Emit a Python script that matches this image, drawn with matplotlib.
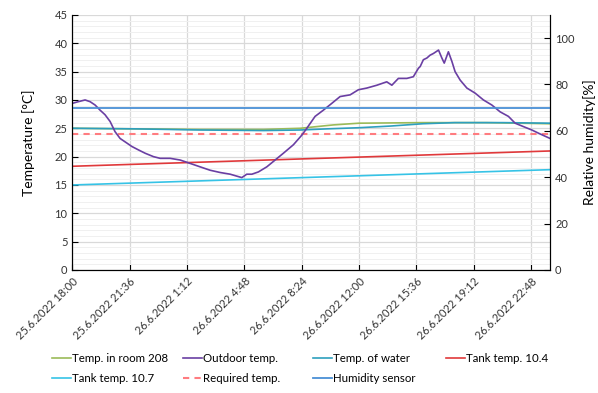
import datetime as dt
import matplotlib
matplotlib.use('Agg')
import matplotlib.pyplot as plt
import matplotlib.dates as mdates
from matplotlib.ticker import MultipleLocator, FuncFormatter

plt.rcParams['font.family'] = ['Lato', 'DejaVu Sans']

start = dt.datetime(2022, 6, 25, 18, 0)
end = dt.datetime(2022, 6, 27, 0, 0)

# hours since start / outdoor temperature
outdoor_h = [0, 0.38, 0.8, 1.11, 1.43, 1.74, 2.05, 2.37, 2.68, 3.0, 3.42, 3.73, 4.14,
             4.57, 5.09, 5.51, 6.14, 6.77, 7.4, 8.02, 8.65, 9.28, 9.91, 10.64, 10.95,
             11.27, 11.68, 12.21, 12.73, 13.25, 13.88, 14.41, 14.72, 15.24, 15.76,
             16.29, 16.81, 17.44, 17.96, 18.49, 19.12, 19.74, 20.06, 20.47, 21.0,
             21.41, 21.73, 21.84, 22.04, 22.26, 22.46, 22.67, 22.99, 23.2, 23.35,
             23.61, 23.83, 24.03, 24.35, 24.77, 25.29, 25.81, 26.34, 26.86, 27.38,
             27.8, 28.32, 28.85, 29.37, 30.0]
outdoor_t = [29.4, 29.7, 30.0, 29.7, 29.1, 28.2, 27.4, 26.2, 24.4, 23.2, 22.4, 21.8, 21.2,
             20.6, 20.0, 19.7, 19.7, 19.4, 18.8, 18.2, 17.6, 17.2, 16.9, 16.3, 16.9,
             16.9, 17.3, 18.2, 19.4, 20.6, 22.1, 23.8, 25.0, 27.1, 28.2,
             29.4, 30.6, 30.9, 31.8, 32.1, 32.6, 33.2, 32.6, 33.8, 33.8,
             34.1, 35.6, 35.9, 37.1, 37.4, 37.9, 38.2, 38.8, 37.4, 36.5,
             38.5, 36.8, 35.0, 33.5, 32.1, 31.2, 30.0, 29.1, 27.9, 27.1,
             25.9, 25.3, 24.7, 24.0, 23.2]

room_h = [0, 4, 8, 12, 14.3, 16.4, 18, 22, 26, 30]
room_t = [25.0, 24.9, 24.8, 24.8, 25.0, 25.6, 25.9, 26.0, 26.0, 25.8]

water_h = [0, 4, 8, 12, 14.3, 16, 18, 20, 22, 24, 27, 30]
water_t = [25.0, 24.9, 24.7, 24.6, 24.7, 24.9, 25.1, 25.4, 25.8, 26.0, 26.0, 25.9]

tank4_h = [0, 30]
tank4_t = [18.3, 21.0]
tank7_h = [0, 30]
tank7_t = [15.0, 17.7]
required_h = [0, 30]
required_t = [24.0, 24.0]
humidity_h = [0, 30]
humidity_pct = [70.0, 70.0]


def to_dates(hours):
    return [mdates.date2num(start + dt.timedelta(hours=h)) for h in hours]


def fmt_date(x, pos=None):
    d = mdates.num2date(x)
    return f"{d.day}.{d.month}.{d.year} {d.hour}:{d.minute:02d}"


fig = plt.figure(figsize=(5.98, 3.93), dpi=100)
ax = fig.add_axes([0.121, 0.313, 0.799, 0.649])
ax2 = ax.twinx()

l_room, = ax.plot(to_dates(room_h), room_t, color='#9BBB59', lw=1.2)
l_water, = ax.plot(to_dates(water_h), water_t, color='#2E9FBE', lw=1.2)
l_t4, = ax.plot(to_dates(tank4_h), tank4_t, color='#E0393B', lw=1.2)
l_t7, = ax.plot(to_dates(tank7_h), tank7_t, color='#36C3E6', lw=1.2)
l_req, = ax.plot(to_dates(required_h), required_t, color='#FF7C80', lw=1.5,
                 ls=(0, (3, 2.5)))
l_out, = ax.plot(to_dates(outdoor_h), outdoor_t, color='#6A3FA3', lw=1.2)
l_hum, = ax2.plot(to_dates(humidity_h), humidity_pct, color='#4A90D6', lw=1.3)

ax.set_xlim(mdates.date2num(start), mdates.date2num(end))
ax.set_ylim(0, 45)
ax2.set_ylim(0, 110)

ticks = [mdates.date2num(start + dt.timedelta(minutes=216 * i)) for i in range(9)]
ax.set_xticks(ticks)
ax.xaxis.set_major_formatter(FuncFormatter(fmt_date))
plt.setp(ax.get_xticklabels(), rotation=45, ha='right', rotation_mode='anchor')

ax.yaxis.set_major_locator(MultipleLocator(5))
ax.yaxis.set_minor_locator(MultipleLocator(1))
ax2.set_yticks([0, 20, 40, 60, 80, 100])

ax.grid(True, which='major', color='#D9D9D9', lw=0.9)
ax.grid(True, which='minor', axis='y', color='#F0F0F0', lw=0.7)
ax.set_axisbelow(True)

for a in (ax, ax2):
    a.spines['top'].set_visible(False)
    a.tick_params(direction='in', length=4, width=0.8, labelsize=8, colors='black')
    a.tick_params(which='minor', length=0)
ax.tick_params(axis='y', labelcolor='#333333')
ax2.tick_params(axis='y', labelcolor='#333333')
ax.tick_params(axis='x', pad=4, labelcolor='#333333')

ax.set_ylabel('Temperature [°C]', fontsize=10, labelpad=14)
ax2.set_ylabel('Relative humidity[%]', fontsize=10, labelpad=6)

# legend: one small legend per column, Excel-like placement
columns = [
    ([l_room, l_t7], ['Temp. in room 208', 'Tank temp. 10.7'], 52),
    ([l_out, l_req], ['Outdoor temp.', 'Required temp.'], 183),
    ([l_water, l_hum], ['Temp. of water', 'Humidity sensor'], 313),
    ([l_t4], ['Tank temp. 10.4'], 446),
]
for hs, ls, xpx in columns:
    fig.legend(hs, ls, loc='upper left', bbox_to_anchor=(xpx / 598, 1 - 353 / 393),
               frameon=False, fontsize=8.3, handlelength=1.65, handletextpad=0.1,
               borderpad=0, borderaxespad=0, labelspacing=0.8)

fig.savefig('out.png', dpi=100)
